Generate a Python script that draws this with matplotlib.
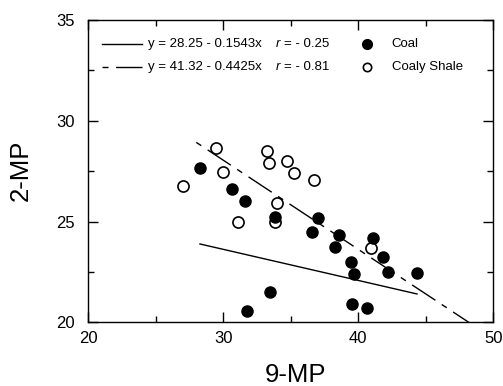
import numpy as np
import matplotlib
matplotlib.use("Agg")
import matplotlib.pyplot as plt

plt.rcParams['font.family'] = ['Liberation Sans', 'DejaVu Sans']

# Coal (filled)
coal_x = [28.27, 30.62, 31.58, 33.83, 37.04, 36.55, 38.57, 38.27, 41.11,
          39.44, 41.85, 39.68, 42.18, 44.35, 39.56, 40.67, 33.48, 31.78]
coal_y = [27.67, 26.63, 26.02, 25.23, 25.20, 24.49, 24.31, 23.74, 24.19,
          22.97, 23.25, 22.39, 22.50, 22.46, 20.89, 20.69, 21.49, 20.54]
# Coaly shale (open)
shale_x = [27.03, 29.48, 29.96, 31.07, 33.26, 33.36, 34.70, 35.21, 36.70,
           33.96, 33.83, 40.93]
shale_y = [26.76, 28.63, 27.44, 24.98, 28.50, 27.90, 28.00, 27.41, 27.04,
           25.92, 24.98, 23.71]

# regression lines
coal_a, coal_b = 28.25, -0.1543
shale_a, shale_b = 41.32, -0.4425
coal_line_x = np.array([28.27, 44.35])
shale_line_x = np.array([28.0, 48.5])

eq_labels = ["y = 28.25 - 0.1543x", "y = 41.32 - 0.4425x"]
r_labels = ["= - 0.25", "= - 0.81"]
series_labels = ["Coal", "Coaly Shale"]

xticks = [20, 30, 40, 50]
yticks = [20, 25, 30, 35]

fig = plt.figure(figsize=(5.03, 3.86), dpi=100)
ax = fig.add_axes([0.1755, 0.165, 0.8052, 0.783])

dash = (4.3, 5.5, 20, 5.5)
ax.plot(coal_line_x, coal_a + coal_b * coal_line_x, color='black', lw=1.0)
ax.plot(shale_line_x, shale_a + shale_b * shale_line_x, color='black', lw=1.0,
        dashes=dash)

ax.plot(shale_x, shale_y, 'o', ms=8, mfc='white', mec='black', mew=1.2, ls='none')
ax.plot(coal_x, coal_y, 'o', ms=8, mfc='black', mec='black', mew=1.0, ls='none')

ax.set_xlim(20, 50)
ax.set_ylim(20, 35)
ax.set_xticks(xticks)
ax.set_yticks(yticks)
ax.set_xticks([25, 35, 45], minor=True)
ax.set_yticks([22.5, 27.5, 32.5], minor=True)
ax.tick_params(which='both', direction='in', top=True, right=True, width=1.0,
               labelsize=12)
ax.tick_params(which='major', length=7.2)
ax.tick_params(which='minor', length=4.3)
ax.tick_params(axis='x', pad=6.5)
ax.tick_params(axis='y', pad=10)
for s in ax.spines.values():
    s.set_linewidth(1.0)

# custom legend
tr = ax.transAxes
rows = [0.921, 0.844]
ax.plot([0.034, 0.133], [rows[0]] * 2, color='black', lw=1.0, transform=tr)
ax.plot([0.034, 0.133], [rows[1]] * 2, color='black', lw=1.0, dashes=dash,
        transform=tr)
fs = 9.5
for i, ry in enumerate(rows):
    ax.text(0.147, ry, eq_labels[i], transform=tr, fontsize=fs, va='center')
    ax.text(0.463, ry, "r", transform=tr, fontsize=fs, va='center', style='italic')
    ax.text(0.483, ry, r_labels[i], transform=tr, fontsize=fs, va='center')
    ax.text(0.749, ry, series_labels[i], transform=tr, fontsize=fs, va='center')
ax.plot([0.687], [rows[0]], 'o', ms=7, mfc='black', mec='black', transform=tr)
ax.plot([0.687], [rows[1]], 'o', ms=6, mfc='white', mec='black', mew=1.2,
        transform=tr)

fig.text(296 / 503, 1 - 375 / 386, "9-MP", fontsize=18.5, ha='center', va='center')
fig.text(21 / 503, 1 - 170 / 386, "2-MP", fontsize=18.5, ha='center', va='center',
         rotation=90)

fig.savefig("out.png", dpi=100)
